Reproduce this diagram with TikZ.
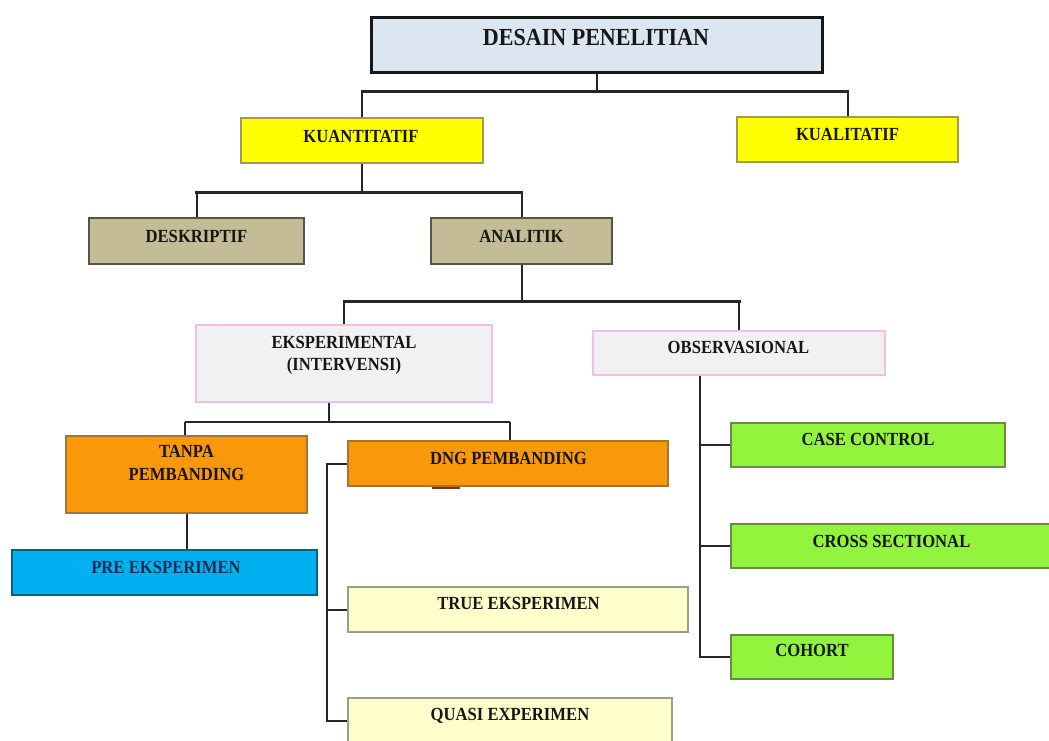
\documentclass[tikz,border=0pt]{standalone}
\usepackage{fontspec}
\newfontfamily\boxfont[FakeStretch=0.9]{Liberation Serif}
\usetikzlibrary{calc}

\definecolor{ink}{HTML}{161616}
\definecolor{linec}{HTML}{262626}
\definecolor{titlefill}{HTML}{DCE6F2}
\definecolor{yel}{HTML}{FFFF00}
\definecolor{tan}{HTML}{C4BC96}
\definecolor{greyfill}{HTML}{F1F1F1}
\definecolor{pinkline}{HTML}{F0BEE6}
\definecolor{orng}{HTML}{FA980C}
\definecolor{skyb}{HTML}{00B0F0}
\definecolor{paley}{HTML}{FFFFCC}
\definecolor{grn}{HTML}{92F43C}
\definecolor{navy}{HTML}{1C2A58}
\definecolor{markc}{HTML}{7A3A10}

\begin{document}
\begin{tikzpicture}[x=1pt,y=-1pt,
  box/.style={rectangle, inner sep=0pt, line width=1.4pt},
  lbl/.style={font={\boxfont\bfseries\fontsize{18.5}{22}\selectfont},
              inner sep=0pt, anchor=base, text=ink},
  lbl2/.style={lbl, anchor=north, align=center},
  conn/.style={draw=linec, line width=2pt},
  bar/.style={draw=linec, line width=3pt, line cap=rect}]

\useasboundingbox (0,0) rectangle (1049,740);
\clip (0,0) rectangle (1049,740);

% ---------- boxes ----------
\node[box, fill=titlefill, draw=ink, line width=3pt,
      minimum width=451, minimum height=55] (title) at (596.5,44.5) {};
\node[box, fill=yel, draw=yel!45!black!70,
      minimum width=242, minimum height=45] (kuan) at (362,140.5) {};
\node[box, fill=yel, draw=yel!45!black!70,
      minimum width=221, minimum height=45] (kual) at (847.5,139.5) {};
\node[box, fill=tan, draw=tan!45!black,
      minimum width=215, minimum height=46] (desk) at (196.5,241) {};
\node[box, fill=tan, draw=tan!45!black,
      minimum width=181, minimum height=46] (anal) at (521.5,241) {};
\node[box, fill=greyfill, draw=pinkline,
      minimum width=296, minimum height=77] (eksp) at (344,363.5) {};
\node[box, fill=greyfill, draw=pinkline,
      minimum width=292, minimum height=44] (obs) at (739,353) {};
\node[box, fill=orng, draw=orng!55!black!80,
      minimum width=241, minimum height=77] (tanpa) at (186.5,474.5) {};
\node[box, fill=orng, draw=orng!55!black!80,
      minimum width=320, minimum height=45] (dng) at (508,463.5) {};
\node[box, fill=skyb, draw=skyb!55!black,
      minimum width=305, minimum height=45] (pre) at (164.5,572.5) {};
\node[box, fill=paley, draw=paley!45!black!70,
      minimum width=340, minimum height=45] (true) at (518,609.5) {};
\node[box, fill=paley, draw=paley!45!black!70,
      minimum width=324, minimum height=45] (quasi) at (510,720.5) {};
\node[box, fill=grn, draw=grn!45!black!80,
      minimum width=274, minimum height=44] (casec) at (868,445) {};
\node[box, fill=grn, draw=grn!45!black!80,
      minimum width=321, minimum height=44] (cross) at (891.5,546) {};
\node[box, fill=grn, draw=grn!45!black!80,
      minimum width=162, minimum height=44] (cohort) at (812,657) {};

% ---------- labels ----------
\node[lbl, font={\boxfont\bfseries\fontsize{24.5}{28}\selectfont}]
      (title-t) at (596,45) {DESAIN PENELITIAN};
\node[lbl] (kuan-t)   at (361,142) {KUANTITATIF};
\node[lbl] (kual-t)   at (847.5,140) {KUALITATIF};
\node[lbl] (desk-t)   at (196.5,242) {DESKRIPTIF};
\node[lbl] (anal-t)   at (521.5,242) {ANALITIK};
\node[lbl2] (eksp-t)  at (344,336.5) {EKSPERIMENTAL\\(INTERVENSI)};
\node[lbl] (obs-t)    at (738.5,353) {OBSERVASIONAL};
\node[lbl2, font={\boxfont\bfseries\fontsize{18.5}{23}\selectfont}]
      (tanpa-t) at (186.5,445) {TANPA\\PEMBANDING};
\node[lbl] (dng-t)    at (508.5,464) {DNG PEMBANDING};
\node[lbl, text=navy] (pre-t) at (166,573) {PRE EKSPERIMEN};
\node[lbl] (true-t)   at (518.5,609) {TRUE EKSPERIMEN};
\node[lbl] (quasi-t)  at (510,720) {QUASI EXPERIMEN};
\node[lbl] (casec-t)  at (868,445) {CASE CONTROL};
\node[lbl] (cross-t)  at (891.5,547) {CROSS SECTIONAL};
\node[lbl] (cohort-t) at (812,656) {COHORT};

% ---------- connectors ----------
% level 1
\draw[conn] (title.south) -- ++(0,18) coordinate (j1);
\draw[conn] (kuan.north) -- (kuan.north |- j1);
\draw[conn] (kual.north) -- (kual.north |- j1);
\draw[bar]  (kuan.north |- j1) -- (kual.north |- j1);

% level 2
\draw[conn] (kuan.south) -- ++(0,29) coordinate (j2);
\draw[conn] (desk.north) -- (desk.north |- j2);
\draw[conn] (anal.north) -- (anal.north |- j2);
\draw[bar]  (desk.north |- j2) -- (anal.north |- j2);

% level 3
\draw[conn] (anal.south) -- ++(0,37) coordinate (j3);
\draw[conn] (eksp.north) -- (eksp.north |- j3);
\draw[conn] (obs.north) -- (obs.north |- j3);
\draw[bar]  (eksp.north |- j3) -- (obs.north |- j3);

% experimental branch
\draw[conn] ([xshift=-15pt]eksp.south) -- ++(0,19) coordinate (j4);
\draw[conn] ([xshift=-2pt]tanpa.north) -- ([xshift=-2pt]tanpa.north |- j4);
\draw[conn] ([xshift=2pt]dng.north) -- ([xshift=2pt]dng.north |- j4);
\draw[conn] ([xshift=-2pt]tanpa.north |- j4) -- ([xshift=2pt]dng.north |- j4);
\draw[conn] (tanpa.south) -- (tanpa.south |- pre.north);

% comparison branch
\draw[conn] (dng.west) -- ++(-20,0) coordinate (dv) |- (quasi.west);
\draw[conn] (true.west) -- (true.west -| dv);
\draw[line width=2pt, markc] ([xshift=-76pt,yshift=-1pt]dng.south) -- ++(28,0);

% observational branch
\coordinate (ov) at ([xshift=-39pt]obs.south);
\draw[conn] (ov) |- (cohort.west);
\draw[conn] (casec.west) -- (casec.west -| ov);
\draw[conn] (cross.west) -- (cross.west -| ov);

\end{tikzpicture}
\end{document}
